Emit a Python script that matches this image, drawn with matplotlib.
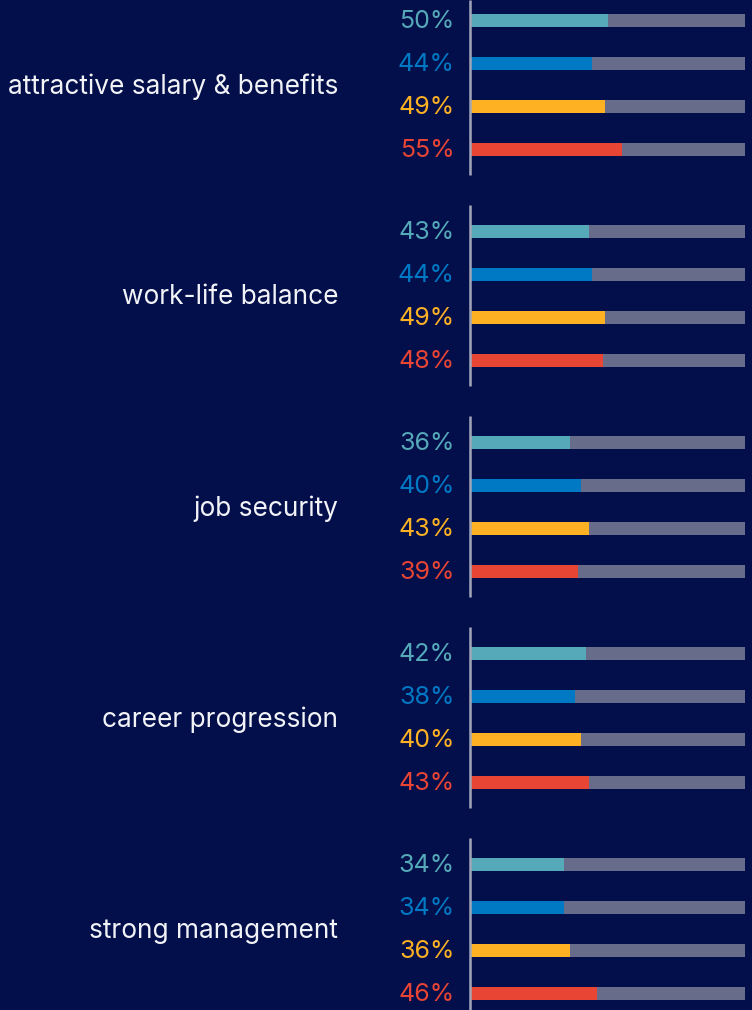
import matplotlib
matplotlib.use("Agg")
import matplotlib.pyplot as plt

categories = ["attractive salary & benefits", "work-life balance", "job security",
              "career progression", "strong management"]
series_a = [50, 43, 36, 42, 34]
series_b = [44, 44, 40, 38, 34]
series_c = [49, 49, 43, 40, 36]
series_d = [55, 48, 39, 43, 46]
series = [series_a, series_b, series_c, series_d]
colors = ["#55A9B9", "#0079C4", "#FDB123", "#E84535"]
bg = "#030F4B"
track = "#676C8B"

W, H = 752, 1010
fig = plt.figure(figsize=(W / 100, H / 100), dpi=100, facecolor=bg)
x0, x1 = 471, 745
ax = fig.add_axes([x0 / W, 0, (x1 - x0) / W, 1])
ax.set_facecolor(bg)
ax.set_xlim(0, 100)
ax.set_ylim(H, 0)
ax.axis("off")

group_step = 211
bar_step = 43
first = 20
bar_h = 13
px = 100 / (x1 - x0)

plt.rcParams['font.family'] = ['Inter', 'DejaVu Sans']

for g, cat in enumerate(categories):
    ys = [first + g * group_step + s * bar_step for s in range(4)]
    for s in range(4):
        v = series[s][g]
        ax.barh(ys[s], 100, height=bar_h, color=track, left=0)
        ax.barh(ys[s], v, height=bar_h, color=colors[s], left=0)
        ax.text((454.5 - x0) * px, ys[s] + 1.5, f"{v}%", ha="right", va="center",
                fontsize=18, color=colors[s], clip_on=False, family=['Inter', 'DejaVu Sans'])
    top = ys[0] - 26
    bot = ys[-1] + 26
    ax.plot([-0.4, -0.4], [max(top, 0), min(bot, H)], color="#A3A6B8", lw=1.8,
            clip_on=False, solid_capstyle="butt")
    ax.text((338 - x0) * px, (ys[1] + ys[2]) / 2 + 2, cat, ha="right", va="center",
            fontsize=18.9, color="#F2F3F7", clip_on=False, family=['Inter', 'DejaVu Sans'])

fig.savefig("out.png", dpi=100, facecolor=bg)
